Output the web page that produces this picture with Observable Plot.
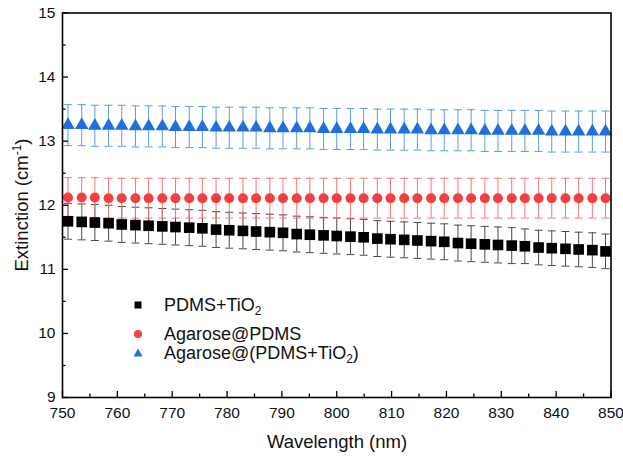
<!DOCTYPE html>
<html><head><meta charset="utf-8">
<script src="https://cdn.jsdelivr.net/npm/d3@7"></script>
<script src="https://cdn.jsdelivr.net/npm/@observablehq/plot@0.6"></script>
<style>
body{margin:0;background:#fff;font-family:"Liberation Sans",Arial,sans-serif;}
#wrap{position:relative;width:623px;height:456px;}
#legend{position:absolute;left:130px;top:290px;font-size:18px;color:#111;line-height:1;}
#legend .row{position:absolute;left:0;white-space:nowrap;display:flex;align-items:center;}
#legend svg{width:16px;height:16px;margin-right:18px;}
#legend sub{font-size:12px;vertical-align:-4px;line-height:0}
</style></head><body>
<div id="wrap"></div>
<script>
const wavelength = [751.0,753.5,755.9,758.4,760.8,763.3,765.7,768.2,770.6,773.1,775.5,778.0,780.4,782.9,785.3,787.8,790.2,792.7,795.1,797.6,800.0,802.5,804.9,807.4,809.8,812.3,814.7,817.2,819.6,822.1,824.5,827.0,829.4,831.9,834.3,836.8,839.2,841.7,844.1,846.6,849.0];
const pdmsTiO2 = [11.75,11.74,11.73,11.72,11.70,11.69,11.68,11.67,11.66,11.65,11.64,11.62,11.61,11.60,11.59,11.58,11.57,11.55,11.54,11.53,11.52,11.51,11.50,11.48,11.47,11.46,11.45,11.44,11.43,11.41,11.40,11.39,11.38,11.37,11.36,11.34,11.33,11.32,11.31,11.30,11.28];
const pdmsTiO2Err = [0.28,0.28,0.28,0.28,0.28,0.28,0.28,0.28,0.28,0.28,0.28,0.28,0.28,0.28,0.28,0.28,0.28,0.28,0.28,0.28,0.28,0.28,0.28,0.28,0.28,0.28,0.28,0.28,0.28,0.28,0.28,0.28,0.28,0.28,0.27,0.27,0.27,0.27,0.27,0.27,0.27];
const agarosePDMS = [12.12,12.12,12.12,12.11,12.11,12.11,12.11,12.11,12.11,12.11,12.11,12.11,12.11,12.11,12.11,12.11,12.11,12.11,12.11,12.11,12.11,12.11,12.11,12.11,12.11,12.11,12.11,12.11,12.11,12.11,12.11,12.11,12.11,12.11,12.11,12.11,12.11,12.11,12.11,12.11,12.11];
const agarosePDMSErr = [0.31,0.31,0.31,0.31,0.31,0.31,0.31,0.31,0.31,0.31,0.31,0.31,0.31,0.31,0.31,0.31,0.31,0.31,0.31,0.31,0.31,0.31,0.31,0.31,0.31,0.31,0.31,0.31,0.31,0.31,0.31,0.31,0.31,0.31,0.31,0.31,0.31,0.31,0.31,0.31,0.31];
const agaroseMix = [13.25,13.25,13.24,13.24,13.24,13.23,13.23,13.23,13.22,13.22,13.22,13.21,13.21,13.21,13.21,13.20,13.20,13.20,13.20,13.19,13.19,13.19,13.19,13.18,13.18,13.18,13.18,13.17,13.17,13.17,13.17,13.16,13.16,13.16,13.16,13.16,13.15,13.15,13.15,13.15,13.15];
const agaroseMixErr = [0.32,0.32,0.32,0.32,0.32,0.32,0.32,0.32,0.32,0.32,0.32,0.32,0.32,0.32,0.32,0.32,0.32,0.32,0.32,0.32,0.32,0.32,0.32,0.32,0.32,0.32,0.32,0.32,0.32,0.32,0.32,0.32,0.32,0.32,0.32,0.32,0.32,0.32,0.32,0.32,0.32];
const xMajor = [750,760,770,780,790,800,810,820,830,840,850];
const xMinor = [755,765,775,785,795,805,815,825,835,845];
const yMajor = [9,10,11,12,13,14,15];
const yMinor = [9.5,10.5,11.5,12.5,13.5,14.5];

const series = [
  {name:"PDMS+TiO2", y: pdmsTiO2, e: pdmsTiO2Err, color:"#000000", err:"#4a4a4a", symbol:"square", r:6},
  {name:"Agarose@PDMS", y: agarosePDMS, e: agarosePDMSErr, color:"#f23f3f", err:"#f07878", symbol:"circle", r:5},
  {name:"Agarose@(PDMS+TiO2)", y: agaroseMix, e: agaroseMixErr, color:"#1f6fdc", err:"#5c9ae8", symbol:"triangle", r:5}
];
const rows = [];
series.forEach(s => wavelength.forEach((x,i) => rows.push({series:s.name, x, y:s.y[i], lo:s.y[i]-s.e[i], hi:s.y[i]+s.e[i]})));

const cap = {draw(ctx){ ctx.moveTo(-4,0); ctx.lineTo(4,0); }};

const W = 623, H = 456, mL = 62, mR = 12.5, mT = 12.5, mB = 59;
const innerW = W - mL - mR, innerH = H - mT - mB;

const marks = [];
series.forEach(s => {
  const d = rows.filter(r => r.series === s.name);
  marks.push(Plot.ruleX(d, {x:"x", y1:"lo", y2:"hi", stroke:s.err, strokeWidth:1}));
  marks.push(Plot.dot(d, {x:"x", y:"lo", symbol:cap, stroke:s.err, strokeWidth:1, r:4}));
  marks.push(Plot.dot(d, {x:"x", y:"hi", symbol:cap, stroke:s.err, strokeWidth:1, r:4}));
});
series.forEach(s => {
  const d = rows.filter(r => r.series === s.name);
  marks.push(Plot.dot(d, {x:"x", y:"y", symbol:s.symbol, fill:s.color, stroke:"none", r:s.r}));
});

const plot = Plot.plot({
  width:W, height:H,
  marginLeft:mL, marginRight:mR, marginTop:mT, marginBottom:mB,
  style:{fontFamily:'"Liberation Sans", Arial, sans-serif', fontSize:"15.5px", color:"#111", background:"#fff"},
  x:{domain:[750,850]},
  y:{domain:[9,15]},
  marks:[
    ...marks,
    Plot.axisX(xMajor, {tickSize:0, tickPadding:9, label:null, fontSize:15.5, tickFormat:d3.format("d")}),
    Plot.axisY(yMajor, {tickSize:0, tickPadding:7, label:null, fontSize:15.5, tickFormat:d3.format("d")}),
    Plot.tickX(xMajor, {x:d=>d, stroke:"#000", strokeWidth:1.3, insetTop:innerH-6}),
    Plot.tickX(xMinor, {x:d=>d, stroke:"#000", strokeWidth:1.3, insetTop:innerH-3.5}),
    Plot.tickY(yMajor, {y:d=>d, stroke:"#000", strokeWidth:1.3, insetRight:innerW-6}),
    Plot.tickY(yMinor, {y:d=>d, stroke:"#000", strokeWidth:1.3, insetRight:innerW-3.5}),
    Plot.frame({stroke:"#000", strokeWidth:1.6})
  ]
});
document.getElementById("wrap").appendChild(plot);

// axis titles
const ns = "http://www.w3.org/2000/svg";
const xt = document.createElementNS(ns,"text");
xt.setAttribute("x", 337); xt.setAttribute("y", 448);
xt.setAttribute("text-anchor","middle"); xt.setAttribute("font-size","18.5px"); xt.setAttribute("fill","#111");
xt.textContent = "Wavelength (nm)";
plot.appendChild(xt);
const yt = document.createElementNS(ns,"text");
yt.setAttribute("transform","translate(28,205) rotate(-90)");
yt.setAttribute("text-anchor","middle"); yt.setAttribute("font-size","18.5px"); yt.setAttribute("fill","#111");
yt.innerHTML = 'Extinction (cm<tspan font-size="12px" dy="-7">-1</tspan><tspan dy="7">)</tspan>';
plot.appendChild(yt);

// legend
const legend = document.createElement("div");
legend.id = "legend";
const sym = {
  square:'<rect x="4.5" y="4.5" width="7" height="7" fill="#000"/>',
  circle:'<circle cx="8" cy="8" r="4" fill="#f23f3f"/>',
  triangle:'<path d="M8,3.5 L12.5,11.5 L3.5,11.5Z" fill="#1f6fdc"/>'
};
const labels = ['PDMS+TiO<sub>2</sub>','Agarose@PDMS','Agarose@(PDMS+TiO<sub>2</sub>)'];
const tops = [6, 35, 54];
series.forEach((s,i) => {
  const row = document.createElement("div");
  row.className = "row";
  row.style.top = tops[i] + "px";
  row.innerHTML = `<svg viewBox="0 0 16 16">${sym[s.symbol]}</svg><span>${labels[i]}</span>`;
  legend.appendChild(row);
});
document.getElementById("wrap").appendChild(legend);
</script>
</body></html>
